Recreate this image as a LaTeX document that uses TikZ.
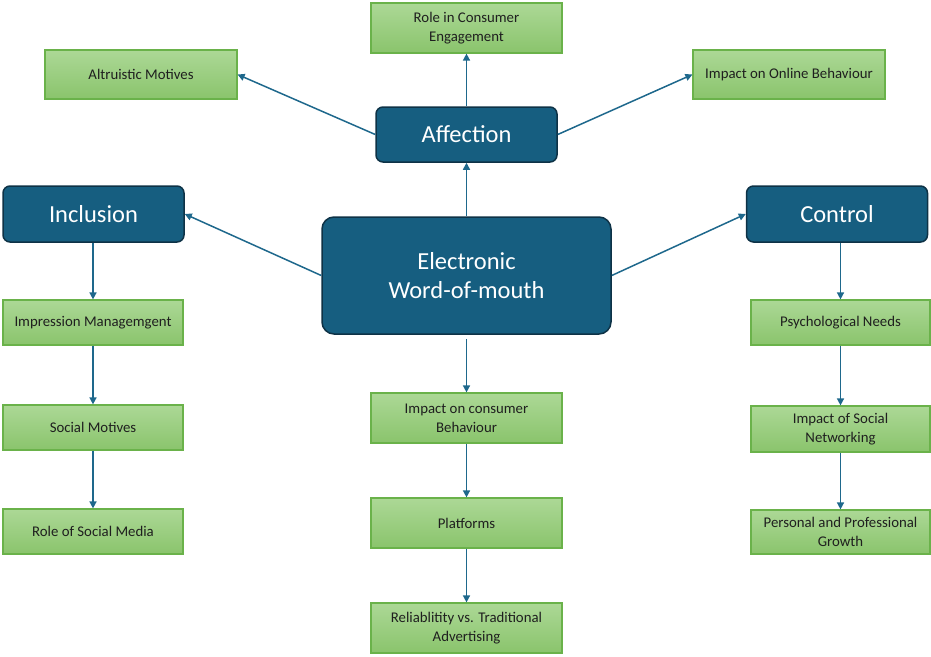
\documentclass[tikz,border=0pt]{standalone}
\usepackage{fontspec}
\setmainfont{Carlito}
\usetikzlibrary{arrows.meta}

\definecolor{ewomblue}{RGB}{22,94,128}
\definecolor{ewomedge}{RGB}{14,50,70}
\definecolor{leaflight}{RGB}{172,216,150}
\definecolor{leafdark}{RGB}{138,196,108}
\definecolor{leafedge}{RGB}{106,178,74}
\definecolor{linkblue}{RGB}{30,104,140}

\tikzset{
  theme/.style={draw=ewomedge, line width=1.5pt, fill=ewomblue, rounded corners=7pt,
    text=white, font=\fontsize{24.5}{29.5}\selectfont, align=center, inner sep=0pt},
  leaf/.style={draw=leafedge, line width=1.2pt, top color=leaflight, bottom color=leafdark,
    text=black!88, font=\fontsize{14.8}{19}\selectfont, align=center, inner sep=0pt},
  link/.style={draw=linkblue, line width=1.5pt, -{Triangle[length=7pt,width=7pt]}}
}

\begin{document}
\begin{tikzpicture}[x=1pt, y=-1pt]
\useasboundingbox (0,0) rectangle (931,656);

% core and the three needs
\node[theme, minimum width=289pt, minimum height=117pt, rounded corners=12pt] (ewom) at (466.5,275.5)
  {Electronic\\Word-of-mouth};
\node[theme, minimum width=181pt, minimum height=55pt] (aff)  at (466.5,134.5) {Affection};
\node[theme, minimum width=181pt, minimum height=56pt] (incl) at (93.5,214)  {Inclusion};
\node[theme, minimum width=181pt, minimum height=56pt] (ctrl) at (837,214)   {Control};

% leaves: name / x / y / width / height / label
\foreach \nm/\xx/\yy/\ww/\hh/\lbl in {
  role/466.5/28/191/50/{Role in Consumer\\Engagement},
  altru/141/74.5/192/49/{Altruistic Motives},
  online/789/74.5/192/49/{Impact on Online Behaviour},
  impr/93/322.5/180/45/{Impression Managemgent},
  socm/93/427.5/180/45/{Social Motives},
  rsm/93/531.5/180/45/{Role of Social Media},
  icb/466.5/418/191/50/{Impact on consumer\\Behaviour},
  plat/466.5/523/191/50/{Platforms},
  rel/466.5/628/191/50/{Reliablitity vs. Traditional\\Advertising},
  psy/840.5/322.5/179/45/{Psychological Needs},
  isn/840.5/429/179/46/{Impact of Social\\Networking},
  ppg/840.5/532/179/44/{Personal and Professional\\Growth}}
{
  \node[leaf, minimum width=\ww pt, minimum height=\hh pt] (\nm) at (\xx,\yy) {\lbl};
}

% connectors
\draw[link] (ewom.north) -- (aff.south);
\draw[link] (ewom.west) -- (incl.east);
\draw[link] (ewom.east) -- (ctrl.west);
\draw[link, shorten <=4pt] (ewom.south) -- (icb.north);
\draw[link] (aff.north) -- (role.south);
\draw[link] (aff.west) -- (altru.east);
\draw[link] (aff.east) -- (online.west);
\draw[link] (incl.south -| impr) -- (impr.north);
\draw[link] (impr) -- (socm);
\draw[link] (socm) -- (rsm);
\draw[link] (icb) -- (plat);
\draw[link] (plat) -- (rel);
\draw[link] (ctrl.south -| psy) -- (psy.north);
\draw[link] (psy) -- (isn);
\draw[link] (isn) -- (ppg);

\end{tikzpicture}
\end{document}
